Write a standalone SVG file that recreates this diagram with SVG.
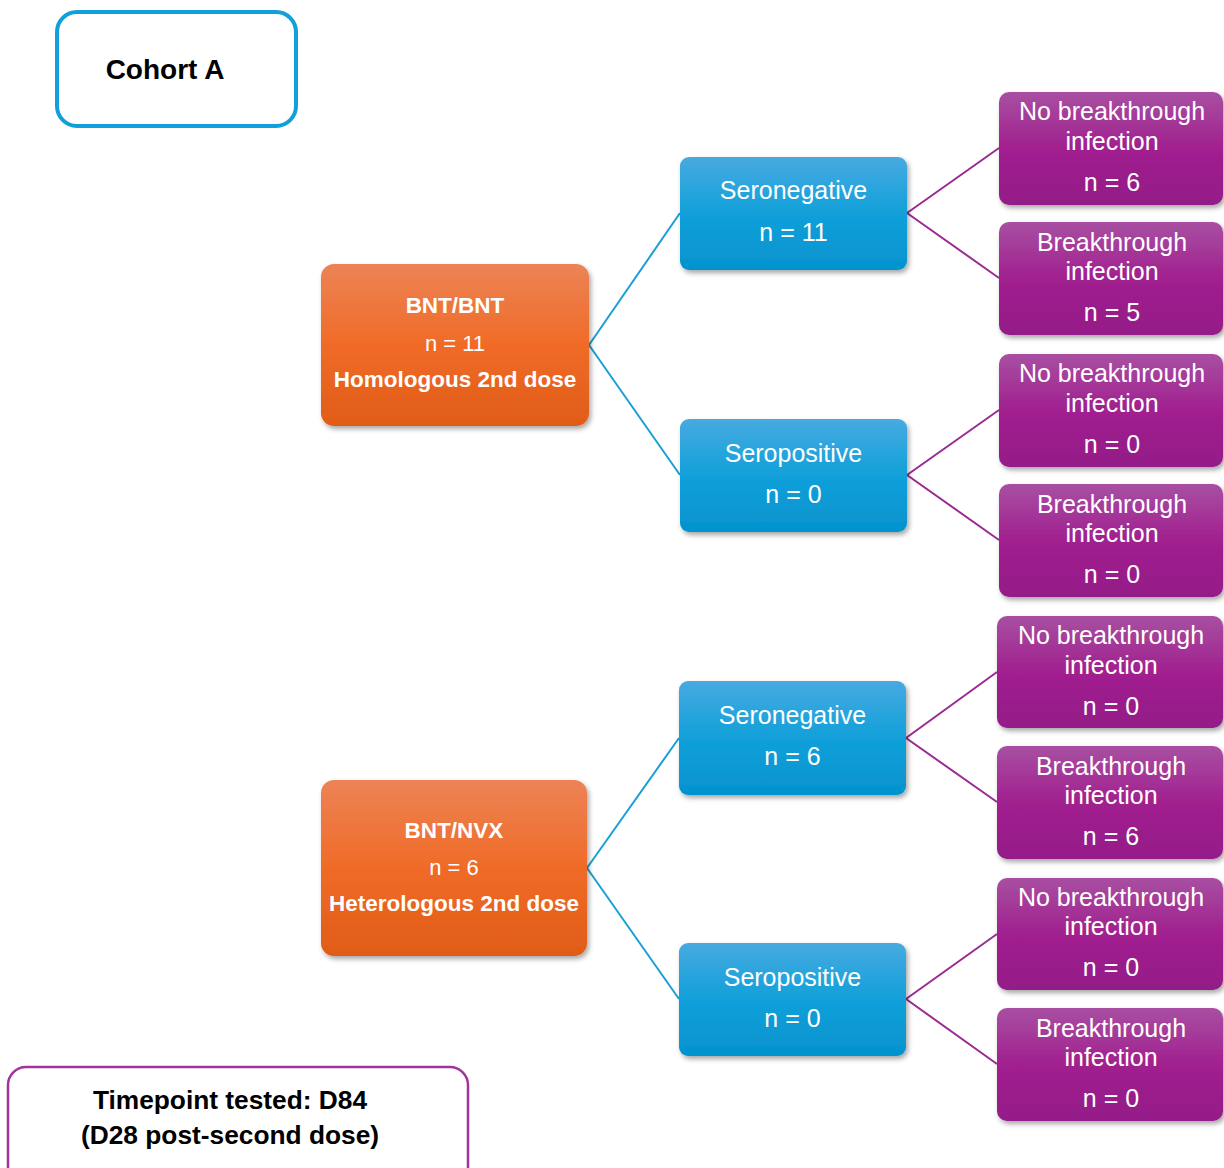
<svg xmlns="http://www.w3.org/2000/svg" width="1224" height="1168" viewBox="0 0 1224 1168">
<defs>
<linearGradient id="gOr" x1="0" y1="0" x2="0" y2="1">
<stop offset="0" stop-color="#EC8356"/><stop offset="0.5" stop-color="#F06B27"/><stop offset="1" stop-color="#E05C18"/>
</linearGradient>
<linearGradient id="gBl" x1="0" y1="0" x2="0" y2="1">
<stop offset="0" stop-color="#47AAE0"/><stop offset="0.5" stop-color="#12A0DA"/><stop offset="1" stop-color="#0493CE"/>
</linearGradient>
<linearGradient id="gPu" x1="0" y1="0" x2="0" y2="1">
<stop offset="0" stop-color="#A84FA2"/><stop offset="0.5" stop-color="#A1208F"/><stop offset="1" stop-color="#941A88"/>
</linearGradient>
<filter id="sh" x="-10%" y="-10%" width="125%" height="130%">
<feDropShadow dx="2" dy="3" stdDeviation="2.5" flood-color="#000" flood-opacity="0.35"/>
</filter>
<style>
.or{fill:url(#gOr);filter:url(#sh)}
.bl{fill:url(#gBl);filter:url(#sh)}
.pu{fill:url(#gPu);filter:url(#sh)}
.w{fill:#fff;font-family:"Liberation Sans",Arial,sans-serif;text-anchor:middle}
.wr{font-size:25px}
.wb{font-size:22.5px;font-weight:bold}
.wn{font-size:22px}
.k{fill:#000;font-family:"Liberation Sans",Arial,sans-serif;font-weight:bold;text-anchor:middle}
.cb{stroke:#1A9FD6;stroke-width:2;fill:none}
.cp{stroke:#9B2A93;stroke-width:2;fill:none}
</style>
</defs>
<rect width="1224" height="1168" fill="#fff"/>

<g id="connectors">
<path class="cb" d="M589,345 L680,213 M589,345 L680,475"/>
<path class="cb" d="M587,868 L679,738 M587,868 L679,999"/>
<path class="cp" d="M907,213 L999,148 M907,213 L999,278"/>
<path class="cp" d="M907,475 L999,410 M907,475 L999,540"/>
<path class="cp" d="M906,738 L997,672 M906,738 L997,802"/>
<path class="cp" d="M906,999 L997,934 M906,999 L997,1064"/>
</g>

<g id="cohort">
<rect x="57" y="12" width="239" height="114" rx="20" fill="#fff" stroke="#12A0DA" stroke-width="4"/>
<text class="k" x="165" y="79" font-size="28">Cohort A</text>
</g>

<g id="timepoint">
<rect x="8" y="1067" width="460" height="120" rx="18" fill="#fff" stroke="#A1349A" stroke-width="2.5"/>
<text class="k" x="230" y="1109" font-size="26.3">Timepoint tested: D84</text>
<text class="k" x="230" y="1144" font-size="26.3">(D28 post-second dose)</text>
</g>

<g id="bnt-bnt">
<rect class="or" x="321" y="264" width="268" height="162" rx="13"/>
<text class="w wb" x="455" y="313">BNT/BNT</text>
<text class="w wn" x="455" y="351">n = 11</text>
<text class="w wb" x="455" y="387">Homologous 2nd dose</text>
</g>

<g id="bnt-nvx">
<rect class="or" x="321" y="780" width="266" height="176" rx="13"/>
<text class="w wb" x="454" y="838">BNT/NVX</text>
<text class="w wn" x="454" y="875">n = 6</text>
<text class="w wb" x="454" y="911">Heterologous 2nd dose</text>
</g>

<g id="seroneg-1">
<rect class="bl" x="680" y="157" width="227" height="113" rx="9"/>
<text class="w wr" x="793.5" y="199">Seronegative</text>
<text class="w wr" x="793.5" y="241">n = 11</text>
</g>
<g id="seropos-1">
<rect class="bl" x="680" y="419" width="227" height="113" rx="9"/>
<text class="w wr" x="793.5" y="462">Seropositive</text>
<text class="w wr" x="793.5" y="503">n = 0</text>
</g>
<g id="seroneg-2">
<rect class="bl" x="679" y="681" width="227" height="114" rx="9"/>
<text class="w wr" x="792.5" y="724">Seronegative</text>
<text class="w wr" x="792.5" y="765">n = 6</text>
</g>
<g id="seropos-2">
<rect class="bl" x="679" y="943" width="227" height="113" rx="9"/>
<text class="w wr" x="792.5" y="986">Seropositive</text>
<text class="w wr" x="792.5" y="1027">n = 0</text>
</g>

<g id="p1">
<rect class="pu" x="999" y="92" width="224" height="113" rx="10"/>
<text class="w wr" x="1112" y="120">No breakthrough</text>
<text class="w wr" x="1112" y="150">infection</text>
<text class="w wr" x="1112" y="191">n = 6</text>
</g>
<g id="p2">
<rect class="pu" x="999" y="222" width="224" height="113" rx="10"/>
<text class="w wr" x="1112" y="251">Breakthrough</text>
<text class="w wr" x="1112" y="280">infection</text>
<text class="w wr" x="1112" y="321">n = 5</text>
</g>
<g id="p3">
<rect class="pu" x="999" y="354" width="224" height="113" rx="10"/>
<text class="w wr" x="1112" y="382">No breakthrough</text>
<text class="w wr" x="1112" y="412">infection</text>
<text class="w wr" x="1112" y="453">n = 0</text>
</g>
<g id="p4">
<rect class="pu" x="999" y="484" width="224" height="113" rx="10"/>
<text class="w wr" x="1112" y="513">Breakthrough</text>
<text class="w wr" x="1112" y="542">infection</text>
<text class="w wr" x="1112" y="583">n = 0</text>
</g>
<g id="p5">
<rect class="pu" x="997" y="616" width="226" height="112" rx="10"/>
<text class="w wr" x="1111" y="644">No breakthrough</text>
<text class="w wr" x="1111" y="674">infection</text>
<text class="w wr" x="1111" y="715">n = 0</text>
</g>
<g id="p6">
<rect class="pu" x="997" y="746" width="226" height="113" rx="10"/>
<text class="w wr" x="1111" y="775">Breakthrough</text>
<text class="w wr" x="1111" y="804">infection</text>
<text class="w wr" x="1111" y="845">n = 6</text>
</g>
<g id="p7">
<rect class="pu" x="997" y="878" width="226" height="112" rx="10"/>
<text class="w wr" x="1111" y="906">No breakthrough</text>
<text class="w wr" x="1111" y="935">infection</text>
<text class="w wr" x="1111" y="976">n = 0</text>
</g>
<g id="p8">
<rect class="pu" x="997" y="1008" width="226" height="113" rx="10"/>
<text class="w wr" x="1111" y="1037">Breakthrough</text>
<text class="w wr" x="1111" y="1066">infection</text>
<text class="w wr" x="1111" y="1107">n = 0</text>
</g>
</svg>
